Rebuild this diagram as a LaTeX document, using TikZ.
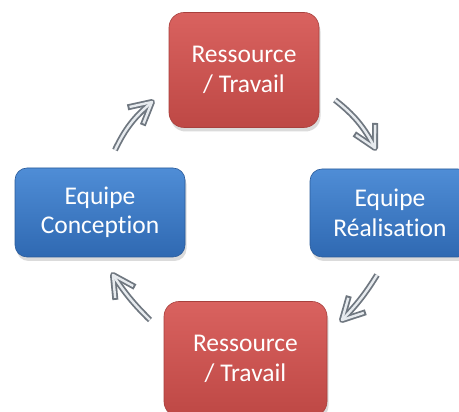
\documentclass[tikz,border=0pt]{standalone}
\usepackage{fontspec}
\setmainfont[Ligatures=NoCommon]{Carlito}
\usetikzlibrary{shadows,calc}
\definecolor{redtop}{HTML}{D9625F}
\definecolor{redmid}{HTML}{CD5552}
\definecolor{redbot}{HTML}{BE4845}
\definecolor{redline}{HTML}{A8403D}
\definecolor{bluetop}{HTML}{4F8DD6}
\definecolor{bluemid}{HTML}{3C7BC8}
\definecolor{bluebot}{HTML}{2F69B2}
\definecolor{blueline}{HTML}{2A5B9A}
\definecolor{arrdark}{HTML}{6F7780}
\definecolor{arrlight}{HTML}{E6EAEE}
\tikzset{
  boxbase/.style={inner sep=0pt, text=white, align=center,
    font=\fontsize{25.5}{29.5}\selectfont, line width=0.6pt,
    drop shadow={opacity=0.28, shadow xshift=1.5pt, shadow yshift=-4pt}},
  redbox/.style={boxbase, rounded corners=15pt, top color=redtop,
    middle color=redmid, bottom color=redbot, draw=redline},
  bluebox/.style={boxbase, rounded corners=12pt, top color=bluetop,
    middle color=bluemid, bottom color=bluebot, draw=blueline},
  arrout/.style={line width=6pt, draw=arrdark, line join=round},
  arrin/.style={line width=2.4pt, draw=arrlight, line join=round},
}
\newcommand\silverarrow[3]{%
  \pgfmathsetmacro\barbA{28-#3}%
  \pgfmathsetmacro\barbB{-28-#3}%
  \draw[arrout] (#1) to[bend left=#3] (#2);
  \draw[arrout] ($(#2)!25pt!\barbA:(#1)$) -- (#2) -- ($(#2)!25pt!\barbB:(#1)$);
  \draw[arrin] (#1) to[bend left=#3] (#2);
  \draw[arrin] ($(#2)!23pt!\barbA:(#1)$) -- (#2) -- ($(#2)!23pt!\barbB:(#1)$);
}
\begin{document}
\begin{tikzpicture}[x=1pt,y=1pt]
\useasboundingbox (0,0) rectangle (459,412);
\fill[white] (0,0) rectangle (459,412);

\node[redbox, minimum width=150pt, minimum height=115pt] (top) at (244,342) {Ressource\\/ Travail};
\node[bluebox, minimum width=160pt, minimum height=88pt] (right) at (390,199) {Equipe\\Réalisation};
\node[bluebox, minimum width=170pt, minimum height=89pt] (left) at (100,199.5) {Equipe\\Conception};
\node[redbox, minimum width=163pt, minimum height=115pt] (bottom) at (245.5,53) {Ressource\\/ Travail};

\coordinate (a1t) at (115,262);
\coordinate (a1h) at (152,310);
\coordinate (a2t) at (335,312);
\coordinate (a2h) at (375,264);
\coordinate (a3t) at (377,137);
\coordinate (a3h) at (342,92);
\coordinate (a4t) at (150,92);
\coordinate (a4h) at (113,137);

\silverarrow{a1t}{a1h}{12}
\silverarrow{a2t}{a2h}{12}
\silverarrow{a3t}{a3h}{6}
\silverarrow{a4t}{a4h}{6}
\end{tikzpicture}
\end{document}
